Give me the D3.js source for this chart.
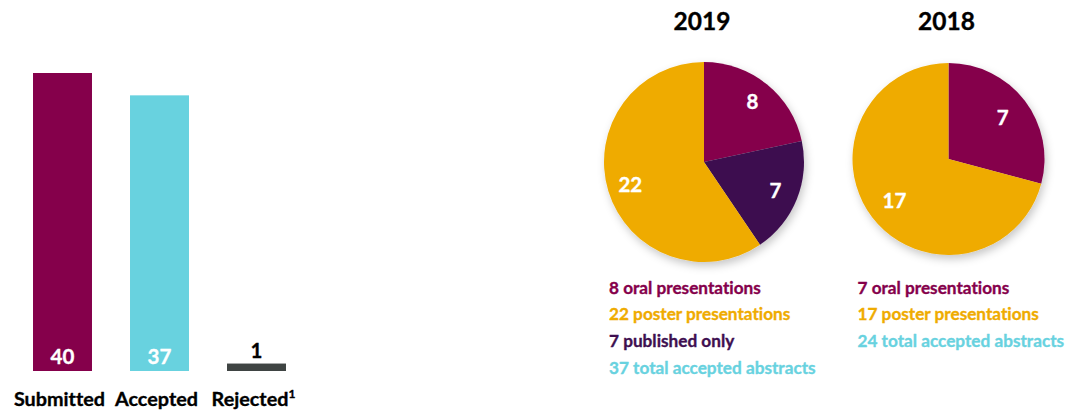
<!DOCTYPE html>
<html>
<head>
<meta charset="utf-8">
<script src="https://cdn.jsdelivr.net/npm/d3@7"></script>
<style>
  html, body { margin: 0; padding: 0; background: #ffffff; }
  svg { display: block; font-family: Lato, "Open Sans", sans-serif; font-weight: 700;
        font-variant-ligatures: none; font-feature-settings: "liga" 0; }
  svg text { paint-order: stroke; stroke-width: 0.35px; stroke-linejoin: round; }
</style>
</head>
<body>
<svg id="chart" width="1068" height="413"></svg>
<script>
// Abstract counts (bar chart)
const barCategories = ["Submitted", "Accepted", "Rejected"];
const barValues = [40, 37, 1];
const barColors = ["#85004b", "#68d2df", "#3f4443"];

// 2019 breakdown, clockwise from 12 o'clock
const pie2019Categories = ["oral presentations", "published only", "poster presentations"];
const pie2019Values = [8, 7, 22];
const pie2019Colors = ["#85004b", "#3e0f50", "#efab00"];

// 2018 breakdown, clockwise from 12 o'clock
const pie2018Categories = ["oral presentations", "poster presentations"];
const pie2018Values = [7, 17];
const pie2018Colors = ["#85004b", "#efab00"];

const years = ["2019", "2018"];
const legendOrder2019 = ["oral presentations", "poster presentations", "published only"];
const legendOrder2018 = ["oral presentations", "poster presentations"];
const totalLabel = "total accepted abstracts";
const totalColor = "#68d2df";

const svg = d3.select("#chart");

// ---------- bar chart ----------
const x = d3.scaleBand()
  .domain(barCategories)
  .range([14, 305])
  .paddingInner(0.392)
  .paddingOuter(0.196);
const y = d3.scaleLinear().domain([0, 40]).range([371, 73]);

const bars = svg.append("g");
bars.selectAll("rect")
  .data(barCategories)
  .join("rect")
  .attr("x", d => x(d))
  .attr("width", x.bandwidth())
  .attr("y", (d, i) => y(barValues[i]))
  .attr("height", (d, i) => y(0) - y(barValues[i]))
  .attr("fill", (d, i) => barColors[i]);

// value labels: inside tall bars, above the short one
bars.selectAll("text.val")
  .data(barCategories)
  .join("text")
  .attr("class", "val")
  .attr("x", d => x(d) + x.bandwidth() / 2)
  .attr("y", (d, i) => barValues[i] > 5 ? y(0) - 7 : y(barValues[i]) - 6)
  .attr("text-anchor", "middle")
  .attr("font-size", 20.5)
  .attr("fill", (d, i) => barValues[i] > 5 ? "#ffffff" : "#000000")
  .attr("stroke", (d, i) => barValues[i] > 5 ? "#ffffff" : "#000000")
  .text((d, i) => barValues[i]);

// category axis labels
const catLabels = bars.selectAll("text.cat")
  .data(barCategories)
  .join("text")
  .attr("class", "cat")
  .attr("x", d => x(d) + x.bandwidth() / 2 - 3)
  .attr("y", 406)
  .attr("text-anchor", "middle")
  .attr("font-size", 19.8)
  .attr("fill", "#000000")
  .attr("stroke", "#000000");
catLabels.append("tspan").text(d => d);
catLabels.filter(d => d === "Rejected")
  .append("tspan")
  .attr("font-size", 12)
  .attr("dy", -8)
  .text("1");

// ---------- pies ----------
const defs = svg.append("defs");
const shadow = defs.append("filter")
  .attr("id", "pieShadow")
  .attr("x", "-20%").attr("y", "-20%")
  .attr("width", "140%").attr("height", "140%");
shadow.append("feDropShadow")
  .attr("dx", 2).attr("dy", 4)
  .attr("stdDeviation", 4)
  .attr("flood-color", "#000000")
  .attr("flood-opacity", 0.22);

function drawPie(cfg) {
  const g = svg.append("g").attr("transform", `translate(${cfg.cx},${cfg.cy})`);
  const pie = d3.pie().sort(null).value(d => d.value);
  const arcs = pie(cfg.categories.map((c, i) => ({ cat: c, value: cfg.values[i], color: cfg.colors[i] })));
  const arc = d3.arc().innerRadius(0).outerRadius(cfg.r);
  const labelArc = d3.arc().innerRadius(cfg.r * cfg.labelK).outerRadius(cfg.r * cfg.labelK);

  const slices = g.append("g").attr("filter", "url(#pieShadow)");
  slices.selectAll("path")
    .data(arcs)
    .join("path")
    .attr("d", arc)
    .attr("fill", d => d.data.color);

  g.selectAll("text")
    .data(arcs)
    .join("text")
    .attr("transform", d => {
      const [lx, ly] = labelArc.centroid(d);
      return `translate(${lx},${ly})`;
    })
    .attr("text-anchor", "middle")
    .attr("dy", "0.36em")
    .attr("font-size", 20.5)
    .attr("fill", "#ffffff")
    .attr("stroke", "#ffffff")
    .text(d => d.data.value);

  // year heading
  svg.append("text")
    .attr("x", cfg.cx - 2)
    .attr("y", 29.5)
    .attr("text-anchor", "middle")
    .attr("font-size", 24.5)
    .attr("fill", "#000000")
    .attr("stroke", "#000000")
    .text(cfg.year);

  // legend lines
  const colorOf = c => cfg.colors[cfg.categories.indexOf(c)];
  const valueOf = c => cfg.values[cfg.categories.indexOf(c)];
  const rows = cfg.legendOrder.map(c => ({ text: `${valueOf(c)} ${c}`, color: colorOf(c) }));
  rows.push({ text: `${d3.sum(cfg.values)} ${totalLabel}`, color: totalColor });
  svg.append("g")
    .selectAll("text")
    .data(rows)
    .join("text")
    .attr("x", cfg.legendX)
    .attr("y", (d, i) => 293.5 + i * 26.7)
    .attr("font-size", 17.2)
    .attr("fill", d => d.color)
    .attr("stroke", d => d.color)
    .text(d => d.text);
}

drawPie({
  year: years[0], cx: 704, cy: 162, r: 100, labelK: 0.77,
  categories: pie2019Categories, values: pie2019Values, colors: pie2019Colors,
  legendOrder: legendOrder2019, legendX: 609
});
drawPie({
  year: years[1], cx: 948.5, cy: 159, r: 96, labelK: 0.71,
  categories: pie2018Categories, values: pie2018Values, colors: pie2018Colors,
  legendOrder: legendOrder2018, legendX: 857.5
});
</script>
</body>
</html>
